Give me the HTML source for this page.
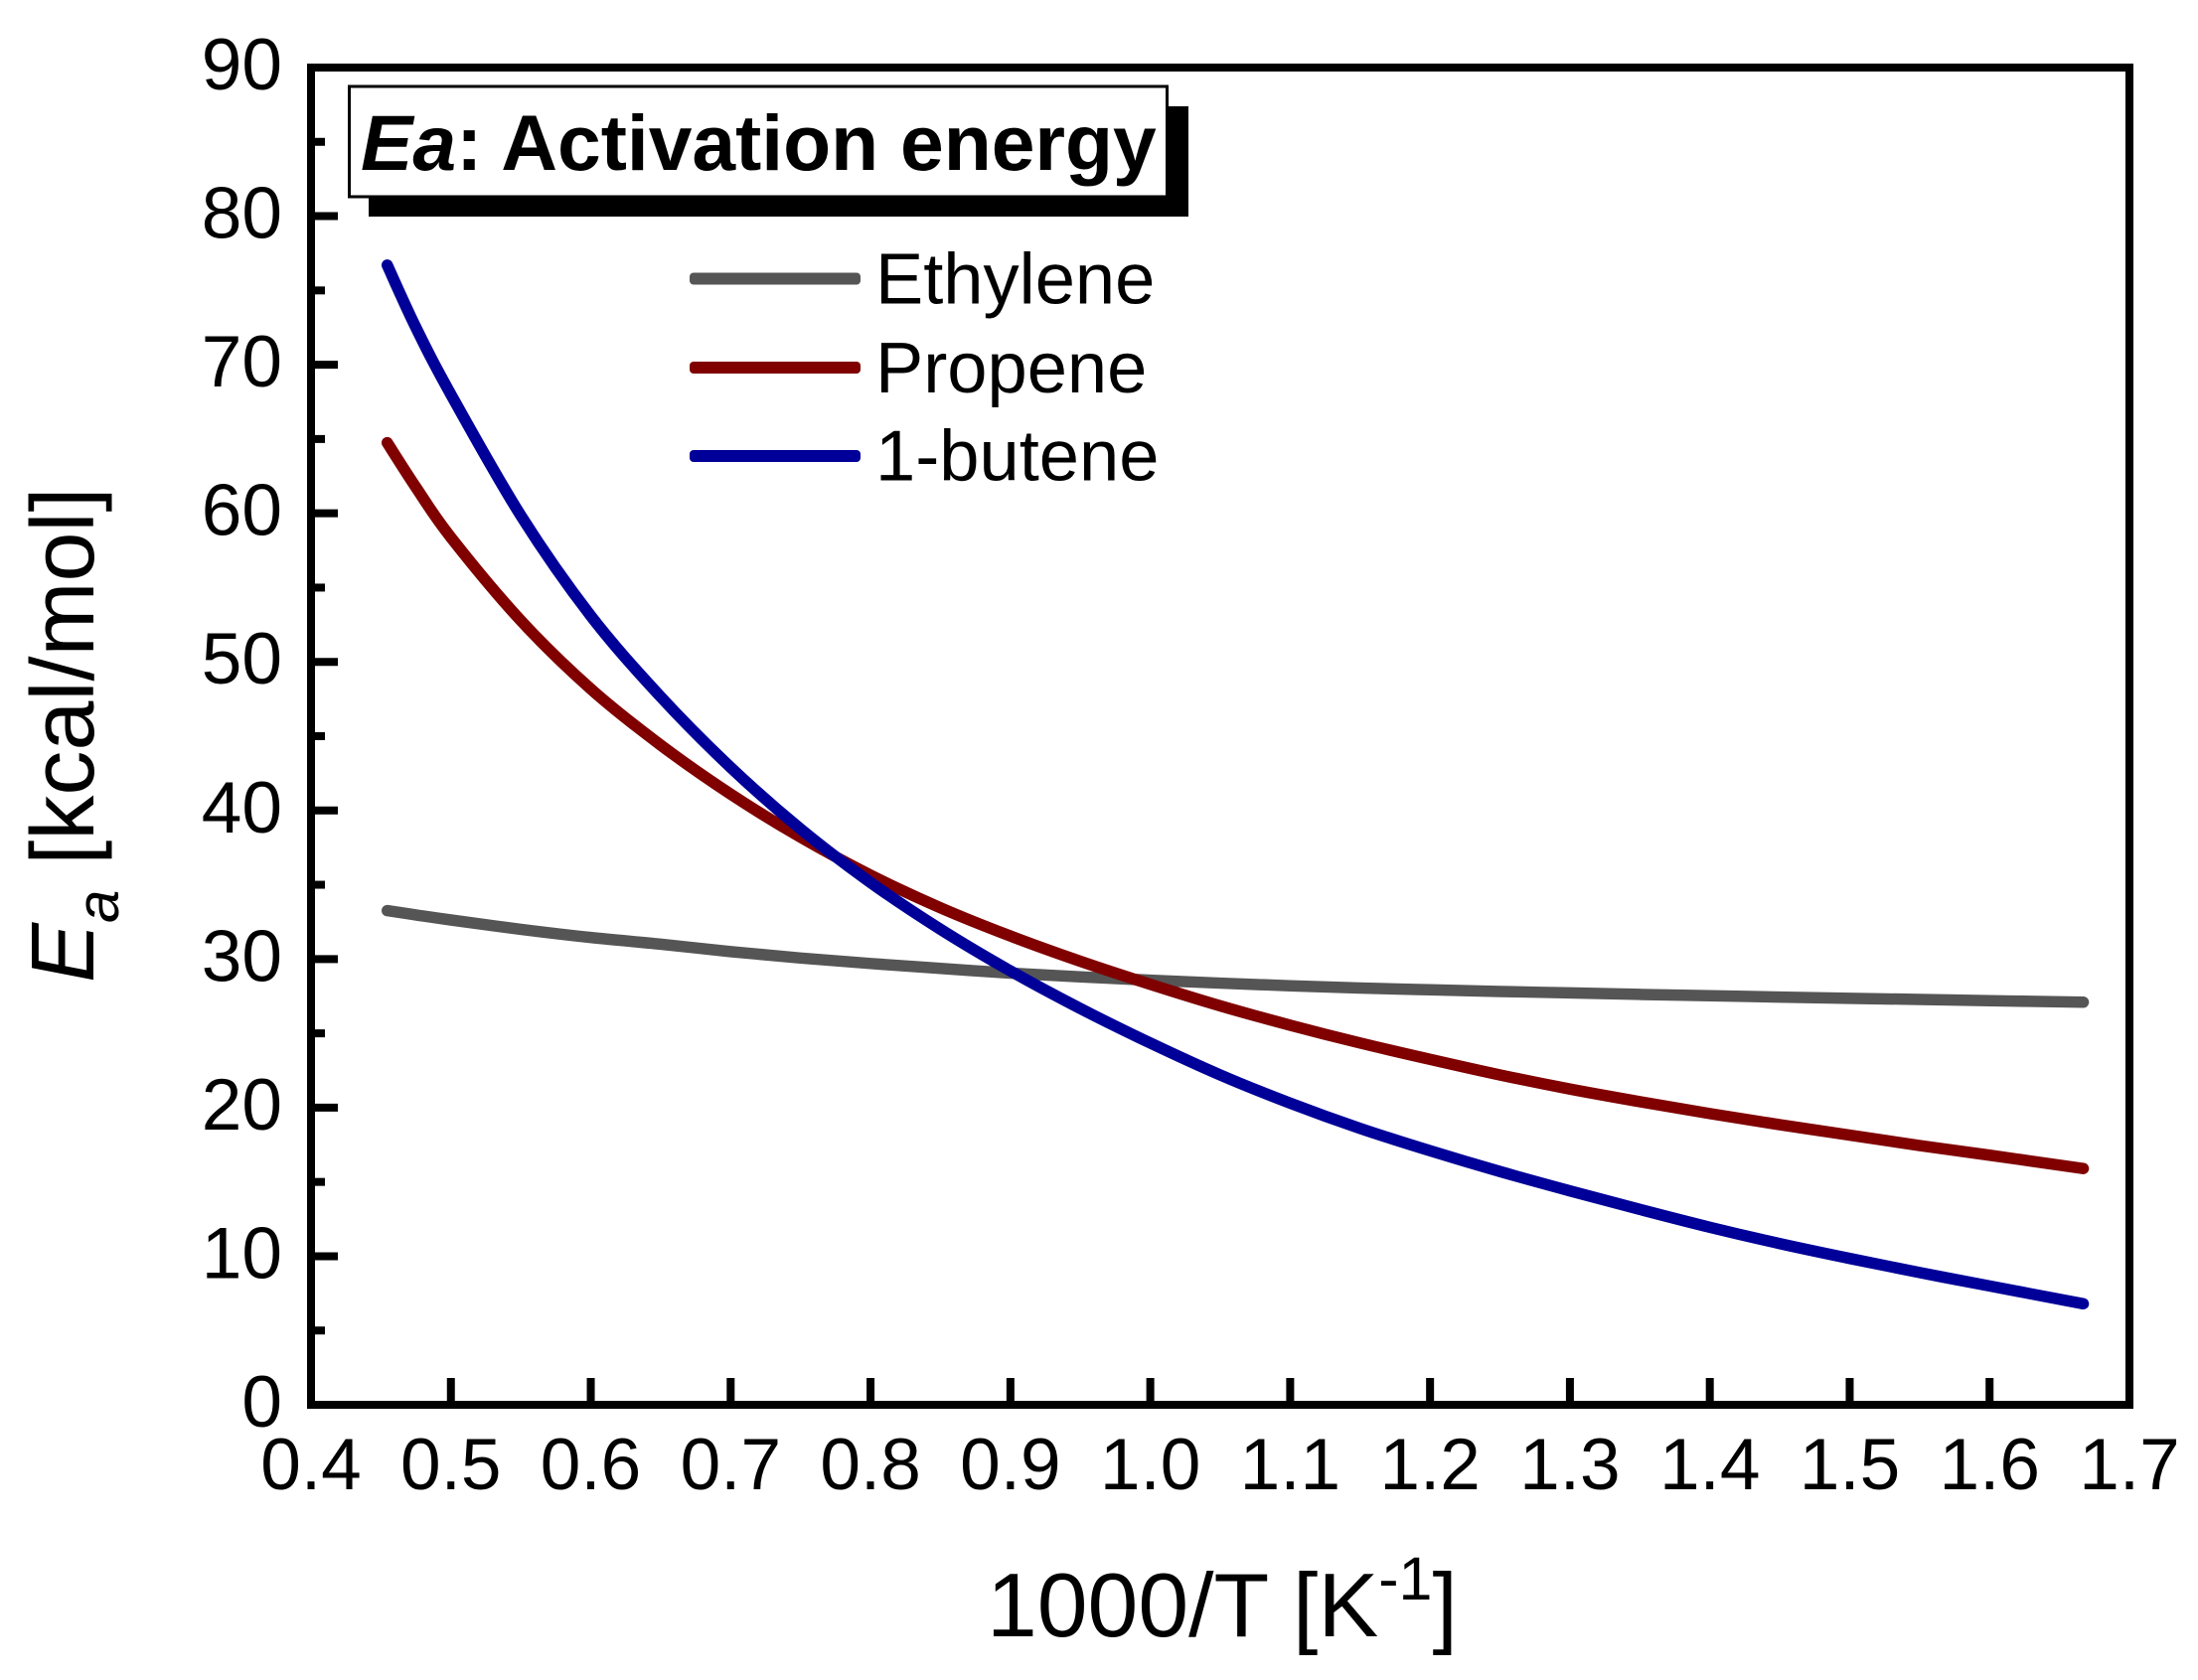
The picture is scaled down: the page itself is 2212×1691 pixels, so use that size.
<!DOCTYPE html>
<html lang="en">
<head>
<meta charset="utf-8">
<title>Activation energy chart</title>
<style>
html,body{margin:0;padding:0;background:#fff;}
svg{display:block;}
text{font-family:"Liberation Sans",Arial,sans-serif;fill:#000;}
</style>
</head>
<body>
<svg id="chart" xmlns="http://www.w3.org/2000/svg" width="2212" height="1691" viewBox="0 0 2212 1691">
  <rect x="0" y="0" width="2212" height="1691" fill="#ffffff"/>
  <g id="series-layer"></g>
  <g id="ticks-layer"></g>
  <g stroke="#000" stroke-width="8" fill="none">
    <line x1="313" y1="64" x2="313" y2="1418"/>
    <line x1="309" y1="68" x2="2147" y2="68"/>
    <line x1="2143" y1="64" x2="2143" y2="1418"/>
    <line x1="313" y1="1414" x2="2143" y2="1414"/>
  </g>
  <g>
    <rect x="371" y="107" width="825" height="111" fill="#000"/>
    <rect x="351.5" y="87" width="823" height="111" fill="#fff" stroke="#000" stroke-width="3"/>
    <text x="363" y="171" font-size="78.6" font-weight="700"><tspan font-style="italic">Ea</tspan>: Activation energy</text>
  </g>
  <g>
    <g>
      <rect x="694" y="274.5" width="172" height="12" rx="4" fill="#555555"/>
      <text x="881" y="305.5" font-size="72.3">Ethylene</text>
    </g>
    <g>
      <rect x="694" y="364" width="172" height="12" rx="4" fill="#800000"/>
      <text x="881" y="395" font-size="72.3">Propene</text>
    </g>
    <g>
      <rect x="694" y="453" width="172" height="12" rx="4" fill="#000099"/>
      <text x="881" y="483.5" font-size="72.3">1-butene</text>
    </g>
  </g>
  <text x="993" y="1647" font-size="91.3">1000/T [K<tspan font-size="61" dy="-37">-1</tspan><tspan dy="37">]</tspan></text>
  <text transform="translate(94,989) rotate(-90)" font-size="90"><tspan font-style="italic">E</tspan><tspan font-style="italic" font-size="60" dy="25">a</tspan><tspan dy="-25"> [kcal/mol]</tspan></text>
</svg>
<script>
var xValues = [0.4545,0.475,0.5,0.55,0.6,0.65,0.7,0.75,0.8,0.85,0.9,0.95,1.0,1.05,1.1,1.15,1.2,1.25,1.3,1.35,1.4,1.45,1.5,1.55,1.6,1.667];
var ethyleneValues = [33.26,32.97,32.63,32.0,31.45,31.0,30.5,30.07,29.7,29.37,29.05,28.8,28.58,28.38,28.2,28.05,27.93,27.82,27.72,27.62,27.53,27.44,27.36,27.28,27.2,27.1];
var propeneValues = [64.75,61.75,58.38,52.78,48.18,44.4,41.1,38.2,35.65,33.45,31.55,29.85,28.3,26.85,25.55,24.35,23.25,22.2,21.25,20.4,19.6,18.85,18.15,17.45,16.8,15.9];
var buteneValues = [76.7,72.5,68.0,59.85,53.1,47.65,42.9,38.75,35.15,32.0,29.2,26.67,24.35,22.2,20.3,18.6,17.1,15.7,14.4,13.15,11.95,10.85,9.85,8.9,8.0,6.8];
var xTickLabels = ["0.4","0.5","0.6","0.7","0.8","0.9","1.0","1.1","1.2","1.3","1.4","1.5","1.6","1.7"];
var yTickLabels = ["0","10","20","30","40","50","60","70","80","90"];
var yMinorTicks = [5,15,25,35,45,55,65,75,85];

var SVGNS = 'http://www.w3.org/2000/svg';
function xScale(v){ return 313 + (v - 0.4) * (2143 - 313) / (1.7 - 0.4); }
function yScale(v){ return 1414 - v * (1414 - 68) / 90; }
function make(tag, parent){ var e = document.createElementNS(SVGNS, tag); parent.appendChild(e); return e; }

function smoothPath(xs, ys){
  var pts = xs.map(function(x, i){ return [xScale(x), yScale(ys[i])]; });
  var d = 'M' + pts[0][0].toFixed(2) + ' ' + pts[0][1].toFixed(2);
  for (var i = 0; i < pts.length - 1; i++) {
    var p0 = pts[Math.max(i - 1, 0)], p1 = pts[i], p2 = pts[i + 1], p3 = pts[Math.min(i + 2, pts.length - 1)];
    var c1x = p1[0] + (p2[0] - p0[0]) / 6, c1y = p1[1] + (p2[1] - p0[1]) / 6;
    var c2x = p2[0] - (p3[0] - p1[0]) / 6, c2y = p2[1] - (p3[1] - p1[1]) / 6;
    d += 'C' + c1x.toFixed(2) + ' ' + c1y.toFixed(2) + ' ' + c2x.toFixed(2) + ' ' + c2y.toFixed(2) + ' ' + p2[0].toFixed(2) + ' ' + p2[1].toFixed(2);
  }
  return d;
}

var seriesLayer = document.getElementById('series-layer');
var ticksLayer = document.getElementById('ticks-layer');

function drawSeries(values, color){
  var p = make('path', seriesLayer);
  p.setAttribute('d', smoothPath(xValues, values));
  p.setAttribute('fill', 'none');
  p.setAttribute('stroke', color);
  p.setAttribute('stroke-width', '11.5');
  p.setAttribute('stroke-linecap', 'round');
  p.setAttribute('stroke-linejoin', 'round');
  return p;
}
var ethyleneLine = drawSeries(ethyleneValues, '#555555');


var propeneLine = drawSeries(propeneValues, '#800000');


var buteneLine = drawSeries(buteneValues, '#000099');



function tickLine(x1, y1, x2, y2){
  var l = make('line', ticksLayer);
  l.setAttribute('x1', x1); l.setAttribute('y1', y1);
  l.setAttribute('x2', x2); l.setAttribute('y2', y2);
  l.setAttribute('stroke', '#000');
  l.setAttribute('stroke-width', '8');
  return l;
}

xTickLabels.forEach(function(label){
  var v = parseFloat(label);
  var px = xScale(v);
  if (v > 0.4 && v < 1.7) {
    var t = tickLine(px, 1414, px, 1387);
    
    
  }
  var txt = make('text', ticksLayer);
  txt.setAttribute('x', px);
  txt.setAttribute('y', 1499);
  txt.setAttribute('font-size', '73');
  txt.setAttribute('text-anchor', 'middle');
  txt.textContent = label;
  
  
});

yTickLabels.forEach(function(label){
  var v = parseFloat(label);
  var py = yScale(v);
  if (v > 0 && v < 90) {
    var t = tickLine(313, py, 340, py);
    
    
  }
  var txt = make('text', ticksLayer);
  txt.setAttribute('x', 284);
  txt.setAttribute('y', py + 22);
  txt.setAttribute('font-size', '73');
  txt.setAttribute('text-anchor', 'end');
  txt.textContent = label;
  
  
});

yMinorTicks.forEach(function(v){
  var py = yScale(v);
  var t = tickLine(313, py, 327, py);
  
  
});
</script>
</body>
</html>
